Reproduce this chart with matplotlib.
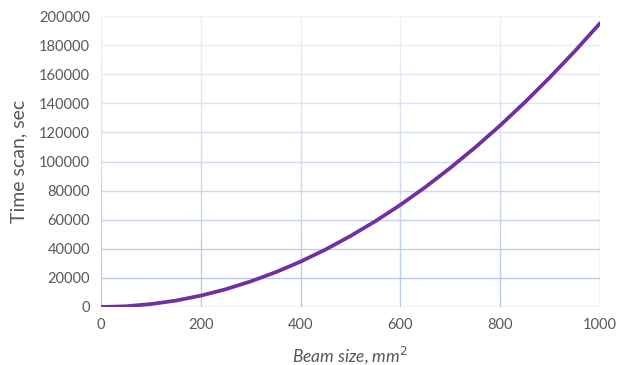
import matplotlib
matplotlib.use("Agg")
import matplotlib.pyplot as plt
from matplotlib.collections import LineCollection
import numpy as np

beam_size = [0, 50, 100, 150, 200, 250, 300, 350, 400, 450, 500, 550, 600,
             650, 700, 750, 800, 850, 900, 950, 1000]
time_scan = [0, 500, 2000, 4400, 7800, 12200, 17600, 23900, 31200, 39500,
             48800, 59000, 70200, 82400, 95600, 109700, 124800, 140900,
             158000, 176000, 195000]
x_ticks = [0, 200, 400, 600, 800, 1000]
y_ticks = [0, 20000, 40000, 60000, 80000, 100000, 120000, 140000, 160000, 180000, 200000]

plt.rcParams['font.family'] = ['Lato', 'DejaVu Sans']

fig = plt.figure(figsize=(6.17, 3.65), dpi=100)
ax = fig.add_axes([101/617, 1-307/365, (600-101)/617, (307-16)/365])
ax.set_xlim(0, 1000)
ax.set_ylim(0, 200000)

top_c = np.array(matplotlib.colors.to_rgb('#EEF1F8'))
bot_c = np.array(matplotlib.colors.to_rgb('#B4C7E7'))
def grad(f):
    return tuple(bot_c + (top_c - bot_c) * f)

for yv in y_ticks:
    ax.axhline(yv, color=grad(yv/200000), lw=1.0, zorder=1)
segs, cols = [], []
n = 40
for xv in x_ticks:
    for i in range(n):
        y0 = 200000 * i / n
        y1 = 200000 * (i + 1) / n
        segs.append([(xv, y0), (xv, y1)])
        cols.append(grad((i + 0.5) / n))
ax.add_collection(LineCollection(segs, colors=cols, linewidths=1.0, zorder=1))

ax.plot(beam_size, time_scan, color='#7030A0', lw=2.7, zorder=3,
        solid_capstyle='round')

for s in ax.spines.values():
    s.set_visible(False)
ax.set_xticks(x_ticks)
ax.set_yticks(y_ticks)
ax.tick_params(length=0, colors='#595959', labelsize=10.5, pad=8)
ax.set_xlabel('Beam size, mm$^2$', fontsize=12.5, style='italic', color='#595959', labelpad=9)
ax.set_ylabel('Time scan, sec', fontsize=14, color='#595959', labelpad=8)

fig.savefig('out.png', dpi=100)
